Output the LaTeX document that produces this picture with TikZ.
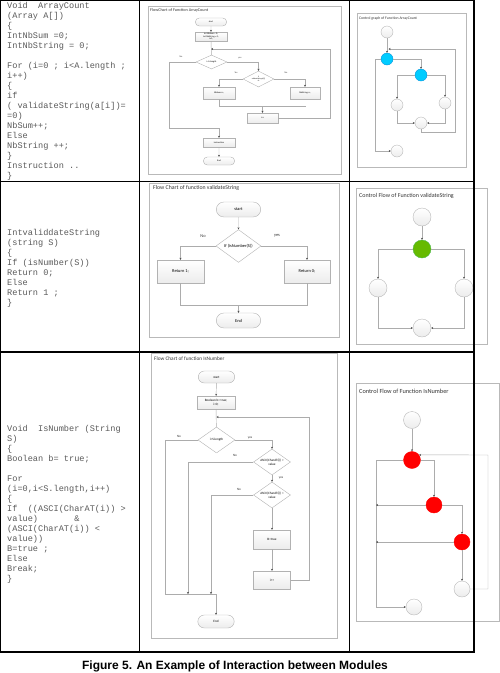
\documentclass[tikz,border=0pt]{standalone}
\usepackage{fontspec}
\setmainfont{Carlito}
\setmonofont{Liberation Mono}
\newfontfamily\capfont{Liberation Sans}
\usetikzlibrary{shapes.geometric,shapes.misc}
\usetikzlibrary{arrows.meta}

\newcommand{\setfs}[2]{\fontsize{#1}{#2}\selectfont}

\begin{document}
\begin{tikzpicture}[x=1pt,y=-1pt,>=Stealth,
  code/.style={anchor=north west,inner sep=0,align=left,text=black!65,font=\ttfamily\setfs{8.6}{10}},
  frame/.style={draw=gray!55,line width=0.5pt},
  title/.style={anchor=west,inner sep=0,text=black!80},
  link/.style={draw=gray!65,line width=0.45pt},
  arr/.style={link,-{Stealth[length=2pt,width=2pt,black!70]}},
  term/.style={rounded rectangle,draw=gray!60,top color=white,bottom color=gray!15,inner sep=0.3pt},
  proc/.style={rectangle,draw=gray!60,top color=white,bottom color=gray!15,inner sep=0.3pt,align=center},
  dec/.style={diamond,draw=gray!60,fill=white,inner sep=0.2pt,align=center},
  vtx/.style={circle,draw=gray!55,inner sep=0,top color=white,bottom color=gray!15},
  lab/.style={inner sep=0,text=black!80}]

\useasboundingbox (0,0) rectangle (500,673);

% ---------------- code column
\node[code] (codeA) at (7,2.5) {Void\ \ ArrayCount\\(Array A[])\\\{\\IntNbSum =0;\\IntNbString = 0;\\[10pt]
For (i=0 ; i<A.length ;\\i++)\\\{\\if\\( validateString(a[i])=\\=0)\\NbSum++;\\Else\\NbString ++;\\\}\\Instruction ..\\\}};

\node[code] (codeB) at (7,229) {IntvaliddateString\\(string S)\\\{\\If (isNumber(S))\\Return 0;\\Else\\Return 1 ;\\\}};

\node[code] (codeC) at (7,425) {Void\ \ IsNumber (String\\S)\\\{\\Boolean b= true;\\[10pt]
For\\(i=0,i<S.length,i++)\\\{\\If\ \ ((ASCI(CharAT(i)) >\\value)\ \ \ \ \ \ \ \&\\(ASCI(CharAT(i)) <\\value))\\B=true ;\\Else\\Break;\\\}};

% ---------------- flow chart ArrayCount
\draw[frame] (148,6) rectangle (341,174);
\node[title,font=\setfs{4.2}{5}] (tA) at (150,10.5) {FlowChart of Function ArrayCount};
\begin{scope}[every node/.append style={font=\setfs{2.3}{2.7}}]
\node[term,minimum width=32,minimum height=8] (start1) at (211,22) {start};
\node[proc,minimum width=32,minimum height=9] (init1) at (211,36.5) {Int NbSum = 0;\\Int NbString = 0;\\i=0;};
\coordinate (loop1) at (211,49);
\node[dec,minimum width=31,minimum height=14] (cond1) at (211.5,62) {i<A.length};
\node[dec,minimum width=31,minimum height=16,shape aspect=2,inner sep=0,font=\setfs{1.8}{2.1}] (cond2) at (258.5,79) {if\\validateString(a[i])\\=0};
\node[proc,minimum width=32,minimum height=12] (sum1) at (219,93) {NbSum++;};
\node[proc,minimum width=30,minimum height=12] (str1) at (305,93) {NbString++;};
\node[proc,minimum width=31,minimum height=10] (inc1) at (262.5,118) {i++};
\node[proc,minimum width=32,minimum height=9] (instr1) at (219,142.5) {Instruction};
\node[term,minimum width=32,minimum height=8] (end1) at (219,161) {End};
\node[lab] (no1) at (181,57) {No};
\node[lab] (yes1) at (240,58) {yes};
\node[lab] (yes2) at (236,73) {Yes};
\node[lab] (no2) at (286,73) {No};
\end{scope}
\coordinate (down1) at (169,128);
\coordinate (merge1) at (306,106);
\coordinate (back1) at (330,49);
\draw[arr] (start1) -- (init1);
\draw[link] (init1) -- (cond1);
\draw[arr] (cond1.west) -| (down1) -| (instr1.north);
\draw[arr] (cond1.east) -| (cond2.north);
\draw[arr] (cond2.west) -| (sum1.north);
\draw[arr] (cond2.east) -| (str1.north);
\draw[link] (sum1.south) |- (merge1);
\draw[arr] (inc1 |- merge1) -- (inc1.north);
\draw[arr] (inc1.east) -| (back1) -- (loop1);
\draw[arr] (instr1) -- (end1);

% ---------------- control graph ArrayCount
\draw[frame] (357,13) rectangle (466,167);
\node[title,font=\setfs{3.8}{4.5}] (tB) at (359,18.5) {Control graph of Function ArrayCount};
\node[vtx,minimum size=12] (a1) at (387,32) {};
\node[vtx,minimum size=12,draw=cyan!80!blue,top color=cyan!80!blue,bottom color=cyan!80!blue] (b1) at (387,59) {};
\node[vtx,minimum size=12,draw=cyan!80!blue,top color=cyan!80!blue,bottom color=cyan!80!blue] (c1) at (421,75) {};
\node[vtx,minimum size=12] (d1) at (397,105) {};
\node[vtx,minimum size=12] (e1) at (445,103) {};
\node[vtx,minimum size=12] (f1) at (421,123) {};
\node[vtx,minimum size=12] (g1) at (397,151) {};
\coordinate (fb1) at (421,132);
\coordinate (rt1) at (455.7,132);
\coordinate (tp1) at (455.7,49);
\coordinate (in1) at (388.5,49);
\coordinate (lf1) at (375.7,59);
\draw[arr] (a1) -- (b1);
\draw[arr] (b1.east) -| (c1.north);
\draw[arr] (c1.west) -| (d1.north);
\draw[arr] (c1.east) -| (e1.north);
\draw[arr] (d1.south) |- (f1.west);
\draw[arr] (e1.south) |- (f1.east);
\draw[arr] (f1.south) -- (fb1) -- (rt1) -- (tp1) -- (in1);
\draw[arr] (b1.west) -- (lf1) |- (g1.west);

% ---------------- flow chart validateString
\draw[frame] (149,183) rectangle (339,337);
\node[title,font=\setfs{5.8}{7}] (tC) at (153,188) {Flow Chart of function validateString};
\begin{scope}[every node/.append style={font=\setfs{4.4}{5.2}}]
\node[term,minimum width=45,minimum height=15] (start2) at (238.5,209.5) {start};
\node[dec,minimum width=45,minimum height=32] (cond3) at (238.5,246) {If (isNumber(S))};
\node[proc,minimum width=47,minimum height=23] (ret1) at (180.5,271.5) {Return 1;};
\node[proc,minimum width=46,minimum height=23] (ret0) at (307,271.5) {Return 0;};
\node[term,minimum width=45,minimum height=15] (end2) at (238.5,320.5) {End};
\node[lab] (no3) at (203,236) {No};
\node[lab] (yes3) at (277,236) {yes};
\end{scope}
\coordinate (merge2) at (180.5,305);
\draw[arr] (start2) -- (cond3);
\draw[arr] (cond3.west) -| (ret1.north);
\draw[arr] (cond3.east) -| (ret0.north);
\draw[link] (ret1.south) |- (ret0.south |- merge2) -- (ret0.south);
\draw[arr] (end2.north |- merge2) -- (end2.north);

% ---------------- control flow validateString
\draw[frame] (356,188) rectangle (487,344);
\node[title,font=\setfs{6}{7}] (tD) at (359,196) {Control Flow of Function validateString};
\node[vtx,minimum size=18] (a2) at (422,217) {};
\node[vtx,minimum size=18,draw=green!60!black!70,top color=green!55!black!60!yellow,bottom color=green!55!black!60!yellow] (b2) at (422,249) {};
\node[vtx,minimum size=18] (c2) at (378,288) {};
\node[vtx,minimum size=18] (d2) at (464,288) {};
\node[vtx,minimum size=18] (e2) at (422,328) {};
\draw[arr] (a2) -- (b2);
\draw[arr] (b2.west) -| (c2.north);
\draw[arr] (b2.east) -| (d2.north);
\draw[arr] (c2.south) |- (e2.west);
\draw[arr] (d2.south) |- (e2.east);

% ---------------- flow chart IsNumber
\draw[frame] (151,353) rectangle (337,638);
\node[title,font=\setfs{5.3}{6}] (tE) at (154,359) {Flow Chart of function IsNumber};
\begin{scope}[every node/.append style={font=\setfs{3.3}{4}}]
\node[term,minimum width=37,minimum height=12] (start3) at (216.5,377) {start};
\node[proc,minimum width=38,minimum height=13] (init3) at (216,402.5) {Boolean b= true;\\i=0;};
\coordinate (loop3) at (216.5,417);
\node[dec,minimum width=37,minimum height=26] (cond4) at (216.5,440) {i<S.length};
\node[dec,minimum width=37,minimum height=26,shape aspect=1.5,inner sep=0] (cond5) at (272,462) {ASCII(CharAT(i)) >\\value};
\node[dec,minimum width=37,minimum height=26,shape aspect=1.5,inner sep=0] (cond6) at (272,495) {ASCII(CharAT(i)) <\\value};
\node[proc,minimum width=37,minimum height=19] (btrue) at (272,539.5) {B=true};
\node[proc,minimum width=37,minimum height=18] (inc3) at (272,580) {i++};
\node[term,minimum width=37,minimum height=13] (end3) at (216,621.5) {End};
\node[lab] (no4) at (179,436) {No};
\node[lab] (yes4) at (250,438) {yes};
\node[lab] (no5) at (235,455) {No};
\node[lab] (yes5) at (281,478) {yes};
\node[lab] (no6) at (239,489) {No};
\end{scope}
\coordinate (out4) at (165,594);
\coordinate (merge3) at (216,594);
\coordinate (back3) at (309,417);
\draw[arr] (start3) -- (init3);
\draw[link] (init3) -- (cond4);
\draw[link] (cond4.west) -| (out4) -- (merge3);
\draw[arr] (cond4.east) -| (cond5.north);
\draw[arr] (cond5.west) -| (188,594);
\draw[arr] (cond6.west) -| (211,594);
\draw[arr] (cond5) -- (cond6);
\draw[arr] (cond6) -- (btrue);
\draw[arr] (btrue) -- (inc3);
\draw[arr] (inc3.east) -| (back3) -- (loop3);
\draw[arr] (merge3) -- (end3.north);

% ---------------- control flow IsNumber
\draw[frame] (356,383) rectangle (499,621);
\node[title,font=\setfs{6.3}{7}] (tF) at (359,391) {Control Flow of Function IsNumber};
\node[vtx,minimum size=17] (a3) at (412,420) {};
\node[vtx,minimum size=17,draw=red,top color=red,bottom color=red] (b3) at (412,460) {};
\node[vtx,minimum size=16,draw=red,top color=red,bottom color=red] (c3) at (434,505) {};
\node[vtx,minimum size=16,draw=red,top color=red,bottom color=red] (d3) at (462,542) {};
\node[vtx,minimum size=16] (e3) at (462,589) {};
\node[vtx,minimum size=16] (f3) at (414,607) {};
\coordinate (lf3) at (376,460);
\coordinate (rt3) at (488,455);
\draw[arr] (a3) -- (b3);
\draw[arr] (b3.east) -| (c3.north);
\draw[arr] (b3.west) -- (lf3) |- (f3.west);
\draw[arr] (c3.west) -- (lf3 |- c3);
\draw[arr] (c3.east) -| (d3.north);
\draw[arr] (d3.west) -- (lf3 |- d3);
\draw[arr] (d3) -- (e3);
\draw[arr] (e3.east) -| (rt3) -- (b3.36);

% ---------------- table
\draw[line width=1.2pt] (0.6,0.6) rectangle (474,652);
\draw[line width=1.2pt] (0.6,181.5) -- (474,181.5);
\draw[line width=1.2pt] (0.6,352) -- (474,352);
\draw[line width=1pt] (139.5,0.6) -- (139.5,652);
\draw[line width=1pt] (349,0.6) -- (349,652);

\node[font=\capfont\bfseries\setfs{12}{14}] (cap) at (235,666) {Figure 5. An Example of Interaction between Modules};

\end{tikzpicture}
\end{document}
